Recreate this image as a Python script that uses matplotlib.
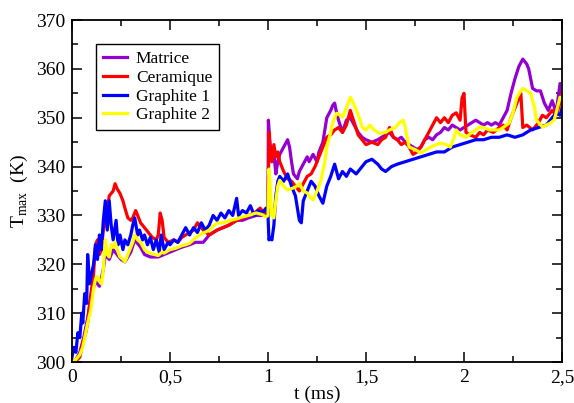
import matplotlib
matplotlib.use('Agg')
import matplotlib.pyplot as plt
from matplotlib.ticker import MultipleLocator

plt.rcParams['font.family'] = ['Liberation Serif', 'DejaVu Serif']
plt.rcParams['mathtext.fontset'] = 'custom'
plt.rcParams['mathtext.rm'] = 'Liberation Serif'

# x tick positions and labels (french decimal comma)
xticks = [0, 0.5, 1, 1.5, 2, 2.5]
xticklabels = ['0', '0,5', '1', '1,5', '2', '2,5']
yticks = [300, 310, 320, 330, 340, 350, 360, 370]

# Matrice
t_mat = [0, 0.02, 0.04, 0.06, 0.08, 0.1, 0.12, 0.14, 0.16, 0.17, 0.19, 0.21, 0.23, 0.25, 0.27,
         0.3, 0.32, 0.35, 0.37, 0.4, 0.44, 0.47, 0.5, 0.53, 0.56, 0.6, 0.63, 0.67, 0.7, 0.74,
         0.77, 0.8, 0.84, 0.87, 0.9, 0.94, 0.97, 1.0, 1.002, 1.01, 1.02, 1.03, 1.04, 1.05, 1.06,
         1.08, 1.1, 1.11, 1.12, 1.13, 1.15, 1.16, 1.18, 1.2, 1.21, 1.23, 1.25, 1.26, 1.28, 1.3,
         1.32, 1.33, 1.34, 1.35, 1.36, 1.38, 1.4, 1.42, 1.44, 1.46, 1.48, 1.5, 1.53, 1.56, 1.58,
         1.6, 1.62, 1.64, 1.66, 1.68, 1.7, 1.72, 1.74, 1.76, 1.78, 1.8, 1.82, 1.84, 1.86, 1.88,
         1.9, 1.92, 1.94, 1.96, 1.98, 2.0, 2.02, 2.04, 2.06, 2.08, 2.1, 2.12, 2.14, 2.16, 2.18,
         2.2, 2.22, 2.24, 2.26, 2.28, 2.3, 2.32, 2.33, 2.35, 2.37, 2.39, 2.41, 2.43, 2.45, 2.47,
         2.48, 2.49, 2.5]
T_mat = [300, 300.5, 302, 305, 309, 314, 316.5, 315.5, 319, 322, 321, 323, 322, 321, 320.5,
         322.5, 325, 323.5, 322, 321.5, 321.5, 322, 322.5, 323, 323.5, 324, 324.5, 324.5, 326, 327,
         327.5, 328, 329, 329, 329.5, 330, 330, 330, 349.5, 345, 341, 343, 338.5, 341, 342.5,
         344, 345.5, 344, 341, 338.5, 337.5, 339, 340.5, 342, 341, 342.5, 341, 343, 345, 350,
         351.5, 352.5, 353, 351, 349.5, 347, 349.5, 350, 348.5, 347, 346, 345.5, 345, 345.5, 346,
         346.5, 347, 346, 345.5, 346, 345, 344.5, 344, 343.5, 344, 345.5, 346, 345.5, 346.5, 347,
         348, 347.5, 348.5, 348, 347.5, 348, 348.5, 349, 349.5, 349, 348.5, 349, 348.5, 349, 348.5,
         350, 351.5, 355, 358, 360.5, 362, 361, 360, 356, 355.5, 355.5, 353, 351.5, 353.5, 351,
         354, 357, 355]

# Ceramique
t_cer = [0, 0.02, 0.04, 0.055, 0.07, 0.08, 0.09, 0.1, 0.11, 0.12, 0.13, 0.14, 0.15, 0.16, 0.17,
         0.18, 0.19, 0.2, 0.21, 0.22, 0.23, 0.245, 0.26, 0.27, 0.285, 0.3, 0.31, 0.325, 0.34, 0.35,
         0.37, 0.39, 0.41, 0.43, 0.44, 0.45, 0.46, 0.47, 0.49, 0.52, 0.54, 0.56, 0.58, 0.6, 0.62,
         0.64, 0.65, 0.67, 0.7, 0.72, 0.74, 0.77, 0.8, 0.82, 0.84, 0.87, 0.9, 0.93, 0.96, 0.98,
         1.0, 1.005, 1.01, 1.02, 1.03, 1.04, 1.05, 1.06, 1.08, 1.1, 1.12, 1.14, 1.16, 1.18, 1.2,
         1.22, 1.24, 1.26, 1.28, 1.3, 1.32, 1.34, 1.36, 1.38, 1.4, 1.42, 1.44, 1.46, 1.48, 1.5,
         1.53, 1.56, 1.58, 1.6, 1.62, 1.64, 1.66, 1.68, 1.7, 1.72, 1.74, 1.76, 1.78, 1.8, 1.82,
         1.84, 1.86, 1.88, 1.9, 1.92, 1.94, 1.96, 1.98, 1.99, 2.0, 2.01, 2.03, 2.06, 2.08, 2.1,
         2.12, 2.15, 2.18, 2.2, 2.22, 2.24, 2.26, 2.28, 2.29, 2.3, 2.32, 2.35, 2.38, 2.4, 2.42,
         2.45, 2.47, 2.49, 2.5]
T_cer = [300, 300.2, 301, 304, 306, 308, 312, 315, 318, 324, 325, 322, 323, 327, 329,
         331, 334, 334.5, 335, 336.5, 335.5, 334.5, 333, 331.5, 329.5, 329, 329.5, 331, 329.5, 328.5,
         327.5, 326.5, 325.5, 325, 326, 330.5, 329, 325.5, 324.5, 325, 324.5, 325.5, 326, 326.5, 327,
         328.5, 328, 327, 326, 326.5, 327, 327.5, 328, 328.5, 329, 329.5, 330, 330.5, 331.5, 330.5,
         330.5, 347, 344, 341, 344.5, 342, 343, 341, 339, 337.5, 337, 336, 335, 336.5, 338,
         338.5, 340, 342, 344, 346, 346.5, 347.5, 348, 347, 348.5, 351.5, 349, 346.5, 345.5, 344.5,
         345, 344.5, 345.5, 346, 348, 346, 345.5, 344.5, 345, 344, 342.5, 343, 344, 345.5, 347,
         348.5, 350, 349, 350, 349, 350.5, 351, 349.5, 354, 355, 347, 346.5, 346, 347, 346.5,
         347.5, 347, 348, 348.5, 347.5, 350, 352, 354, 355, 348, 348.5, 347.5, 349, 350.5, 350,
         351.5, 350.5, 353, 355]

# Graphite 1
t_gr1 = [0, 0.01, 0.02, 0.03, 0.04, 0.05, 0.055, 0.065, 0.075, 0.08, 0.09, 0.1, 0.11, 0.12, 0.13,
         0.14, 0.15, 0.16, 0.17, 0.18, 0.19, 0.2, 0.21, 0.225, 0.235, 0.245, 0.26, 0.27, 0.285, 0.3,
         0.31, 0.32, 0.335, 0.345, 0.36, 0.37, 0.385, 0.4, 0.415, 0.43, 0.445, 0.455, 0.47, 0.49, 0.5,
         0.52, 0.54, 0.56, 0.58, 0.6, 0.62, 0.64, 0.66, 0.68, 0.7, 0.72, 0.74, 0.76, 0.78, 0.8,
         0.82, 0.84, 0.85, 0.87, 0.89, 0.91, 0.93, 0.95, 0.97, 0.99, 1.0, 1.005, 1.01, 1.02, 1.03,
         1.04, 1.05, 1.06, 1.08, 1.1, 1.12, 1.14, 1.16, 1.17, 1.18, 1.2, 1.22, 1.24, 1.26, 1.28,
         1.3, 1.32, 1.34, 1.36, 1.38, 1.4, 1.42, 1.45, 1.48, 1.5, 1.53, 1.56, 1.58, 1.6, 1.63,
         1.66, 1.7, 1.74, 1.78, 1.82, 1.86, 1.9, 1.94, 1.98, 2.02, 2.06, 2.1, 2.14, 2.18, 2.22,
         2.26, 2.3, 2.34, 2.38, 2.42, 2.45, 2.47, 2.49, 2.5]
T_gr1 = [301, 303, 302, 306, 305, 310, 308, 314, 312, 322, 316, 318, 320, 324, 321,
         326, 323, 329, 333, 327, 333, 328, 325, 329, 324, 326, 323, 325, 324, 326,
         328, 329.5, 326, 327, 325, 326, 324, 325.5, 323, 325, 322.5, 326, 323, 324.5, 324,
         325, 324.5, 326, 327.5, 326, 327.5, 326.5, 328.5, 327, 328, 330, 329, 330.5, 329.5, 331,
         330, 333.5, 330, 331, 330.5, 332, 330, 331, 330.5, 331.5, 330, 325, 325.5, 325, 328,
         334, 337, 338, 337, 338.5, 336, 334, 329, 328.5, 333, 335, 337, 336, 334, 332.5,
         336, 338, 340.5, 337.5, 339, 338, 339.5, 338.5, 340, 341, 341.5, 340.5, 339.5, 339, 340,
         340.5, 341, 341.5, 342, 342.5, 343, 343, 344, 344.5, 345, 345.5, 345.5, 346, 346, 346.5,
         346, 346.5, 347.5, 348, 348.5, 350, 351, 350.5, 352]

# Graphite 2
t_gr2 = [0, 0.02, 0.04, 0.055, 0.07, 0.08, 0.095, 0.11, 0.12, 0.13, 0.14, 0.15, 0.16, 0.17, 0.18,
         0.19, 0.2, 0.21, 0.22, 0.235, 0.245, 0.26, 0.27, 0.285, 0.3, 0.31, 0.32, 0.335, 0.35, 0.37,
         0.385, 0.4, 0.42, 0.44, 0.46, 0.47, 0.5, 0.53, 0.56, 0.58, 0.6, 0.63, 0.65, 0.67, 0.7,
         0.72, 0.74, 0.77, 0.81, 0.84, 0.87, 0.9, 0.94, 0.97, 0.99, 1.0, 1.005, 1.01, 1.02, 1.03,
         1.04, 1.05, 1.06, 1.08, 1.1, 1.12, 1.14, 1.16, 1.18, 1.2, 1.22, 1.23, 1.25, 1.27, 1.29,
         1.3, 1.32, 1.33, 1.35, 1.37, 1.38, 1.4, 1.42, 1.43, 1.45, 1.47, 1.48, 1.5, 1.52, 1.54,
         1.57, 1.6, 1.62, 1.65, 1.67, 1.69, 1.7, 1.72, 1.75, 1.78, 1.81, 1.83, 1.86, 1.88, 1.91,
         1.93, 1.95, 1.96, 1.98, 2.01, 2.04, 2.06, 2.08, 2.1, 2.13, 2.16, 2.18, 2.2, 2.23, 2.25,
         2.27, 2.29, 2.3, 2.32, 2.34, 2.36, 2.37, 2.4, 2.42, 2.44, 2.46, 2.47, 2.49, 2.5]
T_gr2 = [300, 300.5, 301.5, 303, 306, 308, 310.5, 315, 317, 317.5, 316.5, 316, 319, 325, 322,
         321.5, 324, 323.5, 324.5, 322.5, 321.5, 321, 320.5, 322, 323.5, 324.5, 326, 325, 324.5, 323,
         322.5, 322.3, 322, 321.8, 322.5, 322.3, 323, 323.3, 323.8, 324, 324.3, 325.4, 326, 326.4, 327,
         327.8, 328.4, 328.5, 329, 329.3, 329.7, 330, 330.5, 330.2, 329.7, 330, 339.5, 337, 330, 329.5,
         333, 336, 337.2, 336, 335.2, 335.5, 335.8, 336.6, 335, 334.6, 333.5, 333.2, 335, 337.2, 341,
         344, 347, 348.9, 350.9, 350.5, 350.1, 352, 354.2, 353.5, 351.6, 349.5, 348.1, 347.5, 348.5, 347.5,
         346.8, 347, 347.5, 348, 349, 349.5, 348, 344, 343.5, 342.8, 343.5, 344, 344.5, 344.8, 344.5,
         344, 346, 347.5, 346.5, 346, 347, 347.5, 348.1, 348, 347.5, 347.5, 347.5, 348, 348.9, 351,
         354.2, 355.5, 356, 355.5, 355, 352, 349.5, 348.1, 348.5, 348.9, 349.5, 351, 354.2, 354]

fig = plt.figure(figsize=(5.74, 4.03), dpi=100)
ax = fig.add_axes([0.1254, 0.1017, 0.8537, 0.8486])

lw = 2.3
ax.plot(t_mat, T_mat, color='#9400d3', lw=lw, label='Matrice')
ax.plot(t_cer, T_cer, color='#ff0000', lw=lw, label='Ceramique')
ax.plot(t_gr1, T_gr1, color='#0000ff', lw=lw, label='Graphite 1')
ax.plot(t_gr2, T_gr2, color='#ffff00', lw=lw, label='Graphite 2')

ax.set_xlim(0, 2.5)
ax.set_ylim(300, 370)
ax.set_xticks(xticks)
ax.set_xticklabels(xticklabels)
ax.set_yticks(yticks)
ax.xaxis.set_minor_locator(MultipleLocator(0.25))
ax.yaxis.set_minor_locator(MultipleLocator(5))
ax.tick_params(which='both', direction='in', top=True, right=True, labelsize=14, width=1.1, pad=5)
ax.tick_params(which='major', length=7)
ax.tick_params(which='minor', length=4)
for s in ax.spines.values():
    s.set_linewidth(1.3)

ax.set_xlabel('t (ms)', fontsize=14, labelpad=0)
ax.set_ylabel(r'T$_\mathregular{max}$  (K)', fontsize=14, labelpad=4)

leg = ax.legend(loc='upper left', bbox_to_anchor=(0.049, 0.93), fontsize=12.5, frameon=True,
                fancybox=False, framealpha=1, edgecolor='black', handlelength=1.4,
                handletextpad=0.5, labelspacing=0.15, borderpad=0.4, borderaxespad=0)
leg.get_frame().set_linewidth(1.0)
for h in leg.get_lines():
    h.set_linewidth(2.3)

fig.savefig('out.png', dpi=100)
